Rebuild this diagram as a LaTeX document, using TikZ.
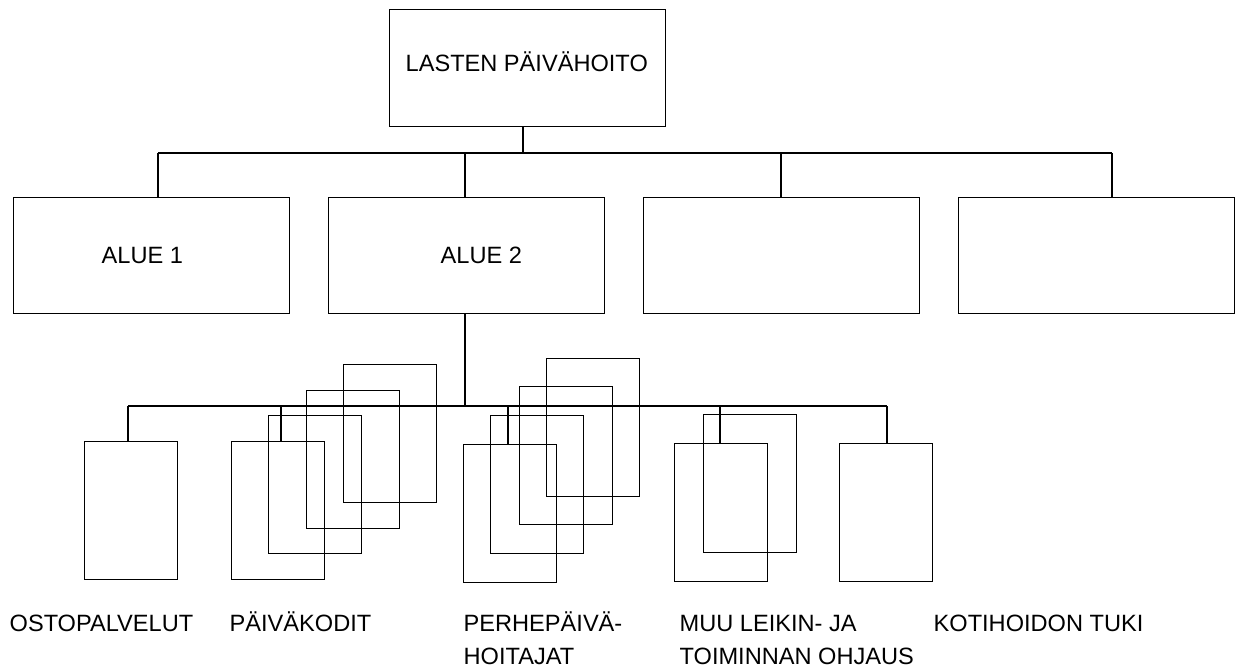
\documentclass[tikz,border=0pt]{standalone}
\usepackage{fontspec}
\setmainfont{Liberation Sans}
\begin{document}
\begin{tikzpicture}[x=1pt,y=-1pt,
  line width=1.3pt,
  bigbox/.style={draw, rectangle, inner sep=0pt, anchor=north west, minimum width=276pt, minimum height=116pt},
  smallbox/.style={draw, rectangle, inner sep=0pt, anchor=north west, minimum width=93pt, minimum height=138pt},
  lbl/.style={inner sep=0pt, anchor=base west, align=left, font=\fontsize{23.6pt}{33pt}\selectfont}
]
\useasboundingbox (0,0) rectangle (1239,671);
\fill[white] (0,0) rectangle (1239,671);

% top level
\node[bigbox, minimum height=117pt] (top) at (389,9) {};
\node[lbl] (ttop) at (405,72) {LASTEN PÄIVÄHOITO};

% second level
\node[bigbox] (a1) at (13,197) {};
\node[bigbox] (a2) at (328,197) {};
\node[bigbox] (a3) at (643,197) {};
\node[bigbox] (a4) at (958,197) {};
\node[lbl] (ta1) at (101,263) {ALUE 1};
\node[lbl] (ta2) at (440,263) {ALUE 2};

\coordinate (j0) at (523,153);
\coordinate (d1) at (158,153);
\coordinate (d2) at (465,153);
\coordinate (d3) at (781,153);
\coordinate (d4) at (1112,153);
\draw (top.south -| j0) -- (j0);
\draw (d1) -- (d4);
\draw (d1) -- (d1 |- a1.north);
\draw (d2) -- (d2 |- a2.north);
\draw (d3) -- (d3 |- a3.north);
\draw (d4) -- (d4 |- a4.north);

% third level boxes
\node[smallbox] (osto) at (84,441) {};
\node[smallbox] (pk4) at (343,364) {};
\node[smallbox] (pk3) at (306,390) {};
\node[smallbox] (pk2) at (268,415) {};
\node[smallbox] (pk1) at (231,441) {};
\node[smallbox] (ph4) at (546,358) {};
\node[smallbox] (ph3) at (519,386) {};
\node[smallbox] (ph2) at (490,415) {};
\node[smallbox] (ph1) at (463,444) {};
\node[smallbox] (muu2) at (703,414) {};
\node[smallbox] (muu1) at (674,443) {};
\node[smallbox] (koti) at (839,443) {};

\coordinate (e0) at (465,406);
\coordinate (e1) at (128,406);
\coordinate (e2) at (281,406);
\coordinate (e3) at (508,406);
\coordinate (e4) at (720,406);
\coordinate (e5) at (887,406);
\draw (a2.south -| e0) -- (e0);
\draw (e1) -- (e5);
\draw (e1) -- (e1 |- osto.north);
\draw (e2) -- (e2 |- pk1.north);
\draw (e3) -- (e3 |- ph1.north);
\draw (e4) -- (e4 |- muu1.north);
\draw (e5) -- (e5 |- koti.north);

% labels
\node[lbl] (t1) at (9,631) {OSTOPALVELUT};
\node[lbl] (t2) at (229,631) {PÄIVÄKODIT};
\node[lbl] (t3) at (463,664) {PERHEPÄIVÄ-\\HOITAJAT};
\node[lbl] (t4) at (679,664) {MUU LEIKIN- JA\\TOIMINNAN OHJAUS};
\node[lbl] (t5) at (933,631) {KOTIHOIDON TUKI};
\end{tikzpicture}
\end{document}
